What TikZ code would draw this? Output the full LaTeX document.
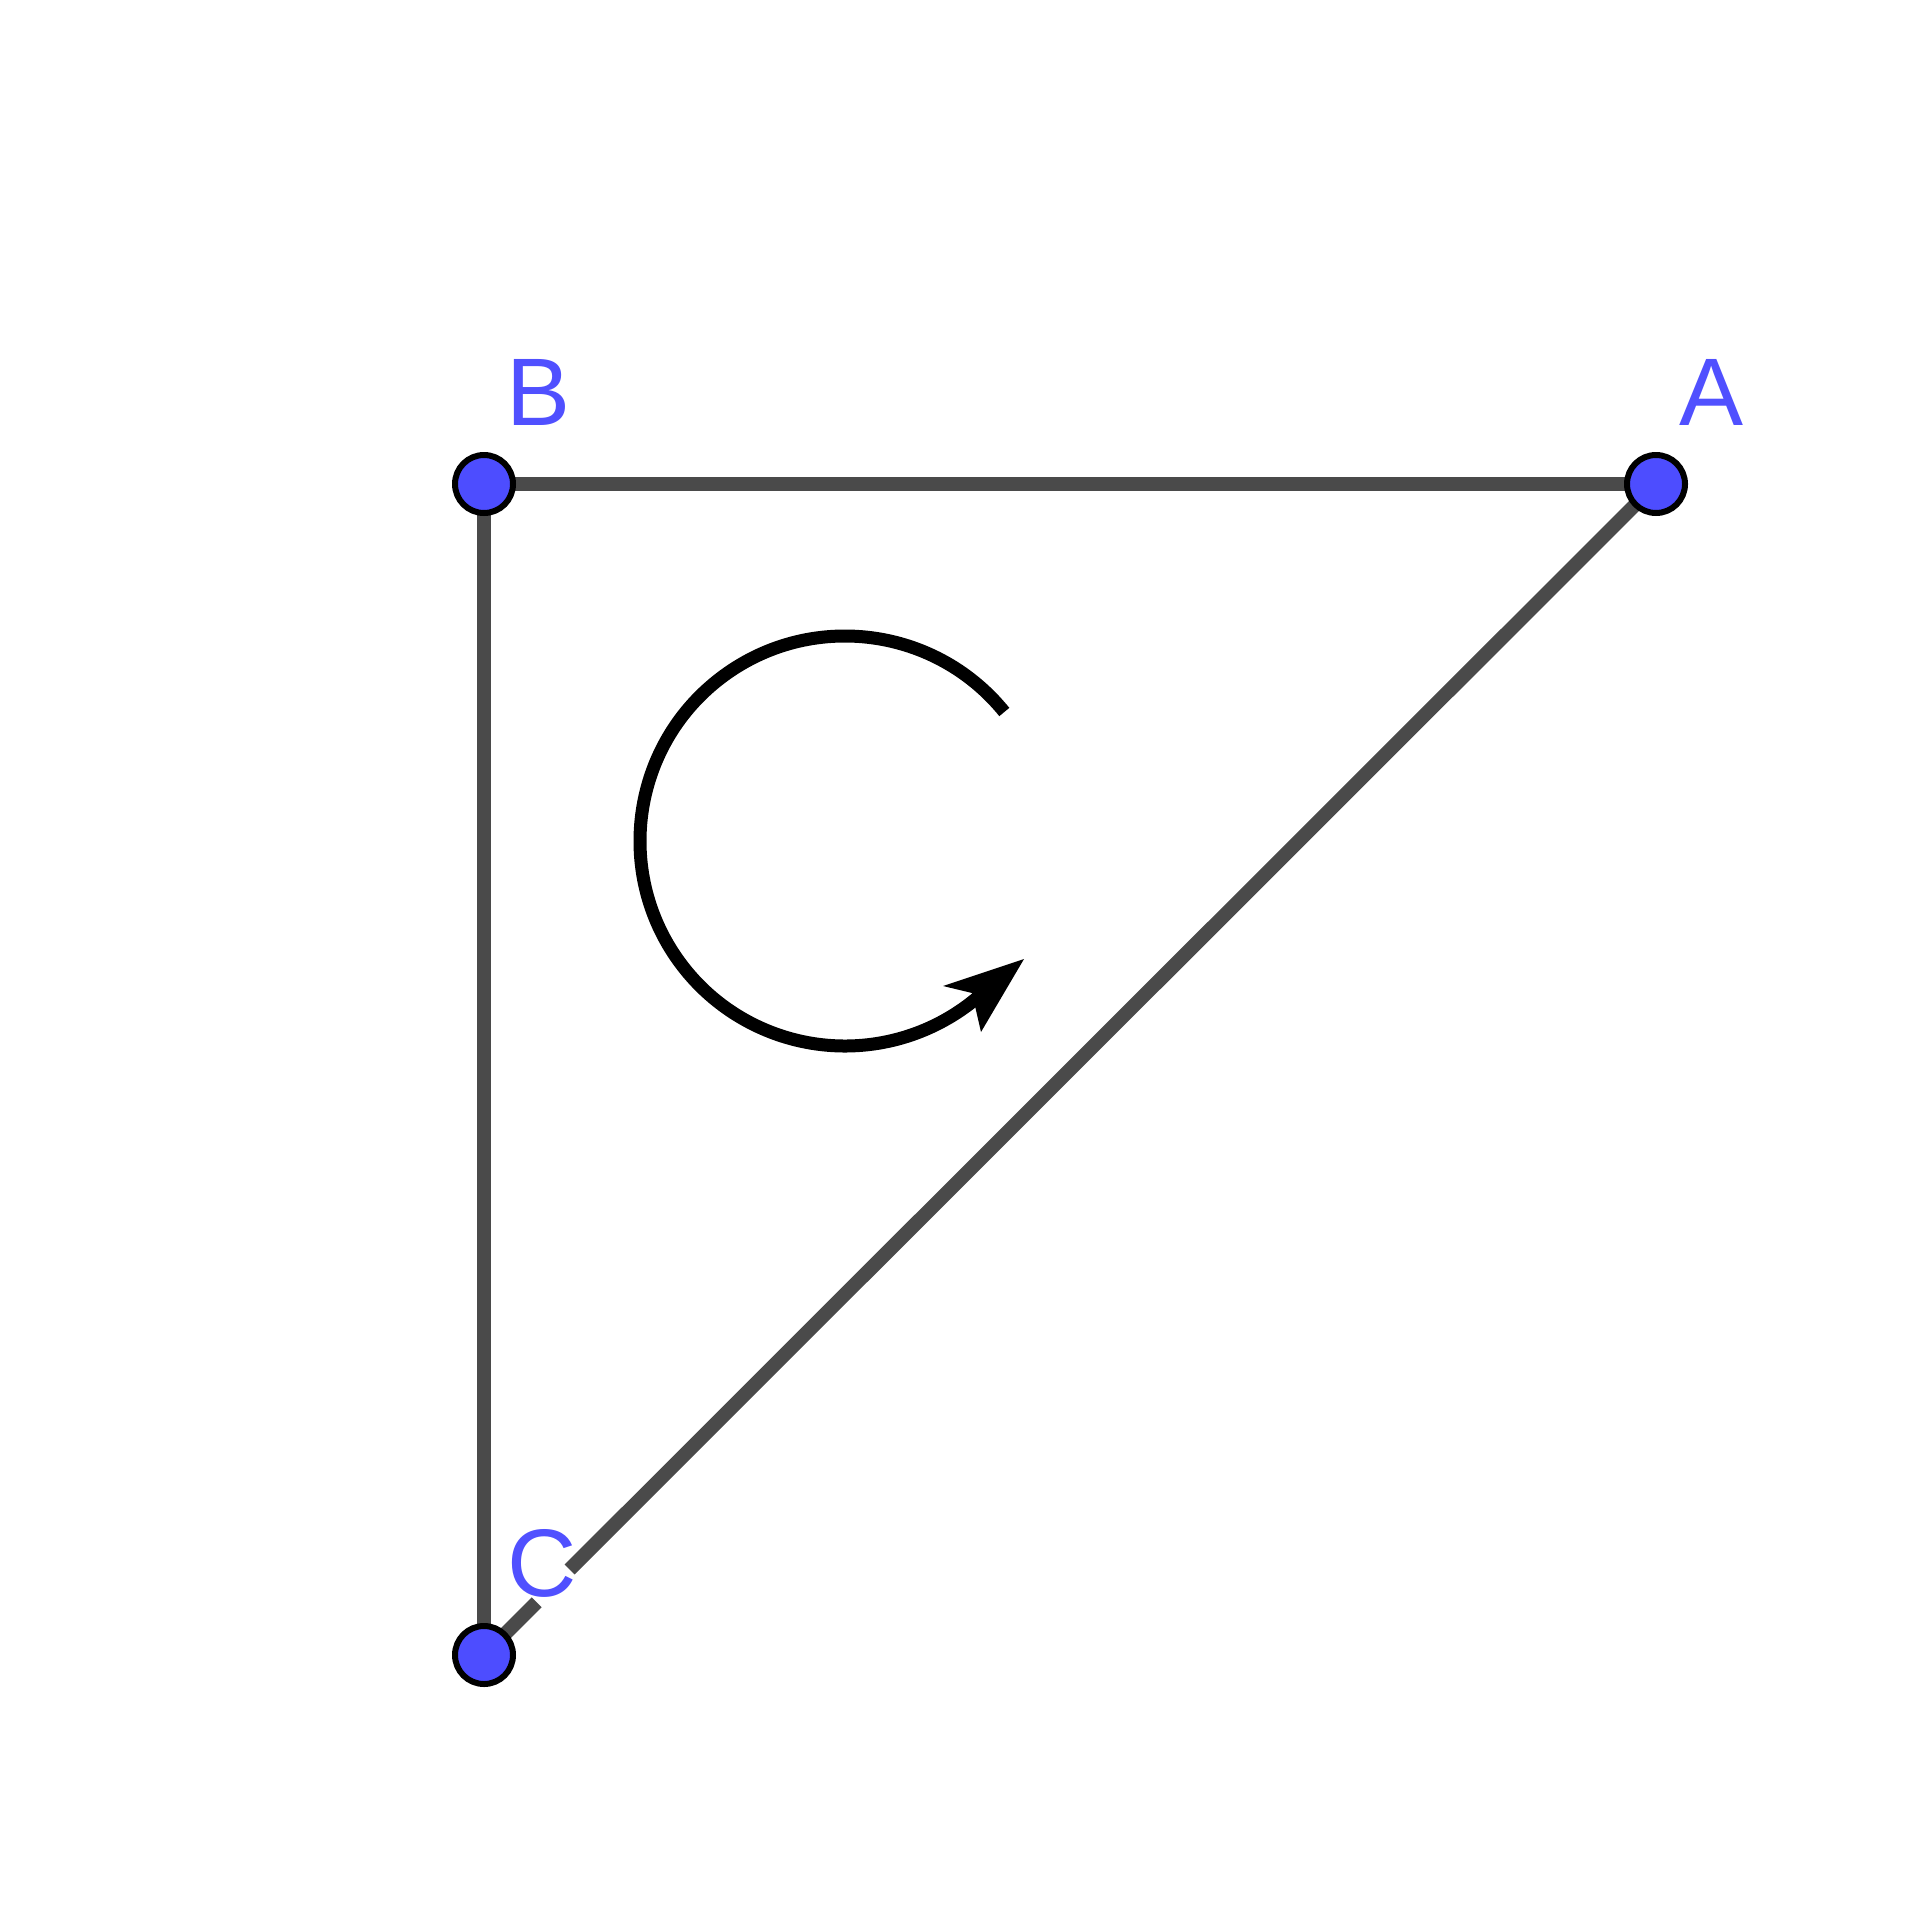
\documentclass[tikz,border=0pt]{standalone}
\usepackage{fontspec}
\setmainfont{Liberation Sans}
\usetikzlibrary{calc}
\definecolor{ptblue}{HTML}{4D4DFF}
\definecolor{lblblue}{HTML}{5050FF}
\definecolor{seggray}{HTML}{4A4A4A}
\tikzset{
  seg/.style={draw=seggray, line width=14pt},
  ptdot/.style={circle, fill=ptblue, draw=black, line width=6pt, minimum size=58pt, inner sep=0pt},
  lbl/.style={text=lblblue, inner sep=0pt, font=\fontsize{96}{100}\selectfont}
}
\begin{document}
\begin{tikzpicture}[x=1pt,y=-1pt]
\useasboundingbox[fill=white] (0,0) rectangle (1924,1924);
\coordinate (A) at (1656,484);
\coordinate (B) at (484,484);
\coordinate (C) at (484,1655);
\draw[seg] (B) -- (A);
\draw[seg] (B) -- (C);
\draw[seg] (C) -- ($(C)!0.045!(A)$) coordinate (gapstart);
\draw[seg] ($(C)!0.073!(A)$) coordinate (gapend) -- (A);
% rotation arrow
\draw[black, line width=13pt] (845,841) ++(-39:205) coordinate (arcstart) arc[start angle=-39, end angle=-310, radius=205] coordinate (arcend);
\fill[black] (1024,959) coordinate (tip) -- (981,1032) -- (972,993) -- (943,986) -- cycle;
% labels
\node[lbl] (lB) at (539,392) {B};
\node[lbl] (lA) at (1711,392) {A};
\node[lbl] (lC) at (542,1563) {C};
% points
\node[ptdot] (pA) at (A) {};
\node[ptdot] (pB) at (B) {};
\node[ptdot] (pC) at (C) {};
\end{tikzpicture}
\end{document}
